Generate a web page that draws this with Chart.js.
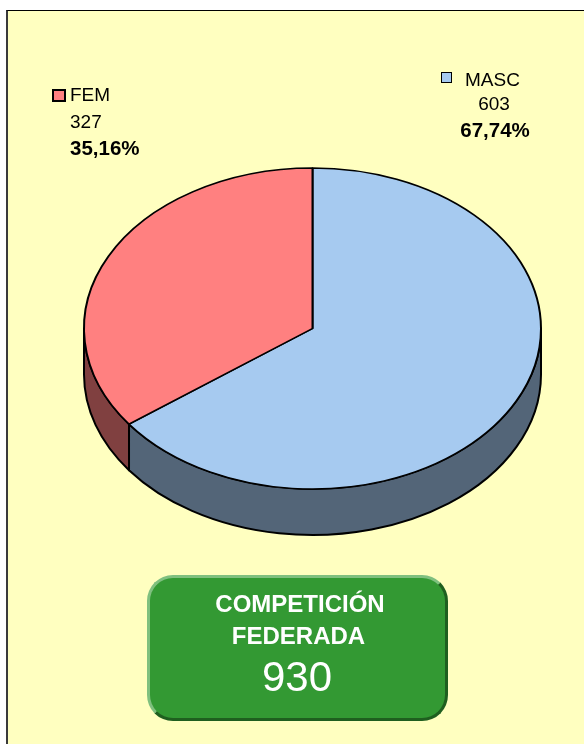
<!DOCTYPE html>
<html><head><meta charset="utf-8">
<script src="https://cdn.jsdelivr.net/npm/chart.js@4.4.1/dist/chart.umd.min.js"></script>
<style>
html,body{margin:0;padding:0;background:#fff;width:584px;height:744px;overflow:hidden;font-family:"Liberation Sans",Arial,sans-serif;}
#frame{position:absolute;left:6px;top:10px;width:600px;height:760px;background:#FFFFC0;border-left:2px solid #3a3a3a;border-top:1px solid #000;}
#c{position:absolute;left:0;top:0;}
.t{position:absolute;white-space:nowrap;line-height:1;color:#000;font-size:19px;}
.b{font-weight:bold;font-size:20.5px;}
.sq{position:absolute;box-sizing:border-box;border:2px solid #000;}
#box{position:absolute;left:147px;top:575px;width:301px;height:146px;box-sizing:border-box;border-radius:26px;background:#339933;border:3px solid;border-color:#7fc07f #1f5f1f #1f5f1f #7fc07f;}
.w{position:absolute;color:#fff;white-space:nowrap;line-height:1;text-align:center;width:300px;}
</style></head>
<body>
<div id="frame"></div>
<canvas id="c" width="584" height="744"></canvas>
<div id="labels"></div>
<div id="box"></div>
<div id="boxText"></div>
<script>
const categories = ['MASC', 'FEM'];
const counts = [603, 327];
const percentLabels = ['67,74%', '35,16%'];
const titleLines = ['COMPETICIÓN', 'FEDERADA'];
const totalValue = 930;

const K = 160.5 / 228.5;
const DEPTH = 46;

const pie3d = {
  id: 'pie3d',
  beforeDatasetsDraw(chart) {
    const ctx = chart.ctx;
    const meta = chart.getDatasetMeta(0);
    const ds = chart.data.datasets[0];
    ctx.save();
    meta.data.forEach((arc, i) => {
      const p = arc.getProps(['x', 'y', 'startAngle', 'endAngle', 'outerRadius'], true);
      const r = p.outerRadius;
      for (const shift of [-2 * Math.PI, 0, 2 * Math.PI]) {
        const a = Math.max(p.startAngle + shift, 0);
        const b = Math.min(p.endAngle + shift, Math.PI);
        if (b <= a) continue;
        ctx.beginPath();
        ctx.ellipse(p.x, p.y, r, r * K, 0, a, b, false);
        ctx.lineTo(p.x + r * Math.cos(b), p.y + r * K * Math.sin(b) + DEPTH);
        ctx.ellipse(p.x, p.y + DEPTH, r, r * K, 0, b, a, true);
        ctx.closePath();
        ctx.fillStyle = ds.sideColor[i];
        ctx.fill();
        ctx.lineWidth = 2;
        ctx.strokeStyle = '#000';
        ctx.lineJoin = 'round';
        ctx.stroke();
      }
    });
    ctx.restore();
    ctx.save();
    const cy = meta.data[0].y;
    ctx.translate(0, cy);
    ctx.scale(1, K);
    ctx.translate(0, -cy);
  },
  afterDatasetsDraw(chart) {
    chart.ctx.restore();
  }
};

new Chart(document.getElementById('c'), {
  type: 'pie',
  data: {
    labels: categories,
    datasets: [{
      data: counts,
      backgroundColor: ['#A6CAF0', '#FF8080'],
      sideColor: ['#536578', '#804040'],
      borderColor: '#000',
      borderWidth: 2
    }]
  },
  options: {
    responsive: false,
    animation: false,
    devicePixelRatio: 1,
    radius: 228.5,
    layout: { padding: { left: 61, right: 20, top: 20, bottom: 107 } },
    plugins: { legend: { display: false }, tooltip: { enabled: false } }
  },
  plugins: [pie3d]
});

// legend labels
const L = document.getElementById('labels');
function add(html, style, cls) {
  const d = document.createElement('div');
  d.className = cls;
  d.textContent = html;
  d.setAttribute('style', style);
  L.appendChild(d);
  return d;
}
// FEM (index 1)
add('', 'left:52px;top:89px;width:14px;height:13px;background:#FF8080;', 'sq');
add(categories[1], 'left:70px;top:84.6px;', 't');
add(String(counts[1]), 'left:70px;top:111.6px;', 't');
add(percentLabels[1], 'left:70px;top:137.6px;', 't b');
// MASC (index 0)
add('', 'left:441px;top:72px;width:11px;height:11px;background:#A6CAF0;border-width:1.5px;', 'sq');
add(categories[0], 'left:465px;top:70px;', 't');
add(String(counts[0]), 'left:444px;top:94px;width:100px;text-align:center;', 't');
add(percentLabels[0], 'left:445px;top:119.6px;width:100px;text-align:center;', 't b');

// total box text
const B = document.getElementById('boxText');
function addW(txt, style) {
  const d = document.createElement('div');
  d.className = 'w';
  d.textContent = txt;
  d.setAttribute('style', style);
  B.appendChild(d);
}
addW(titleLines[0], 'left:150px;top:591.7px;font-size:24px;font-weight:bold;');
addW(titleLines[1], 'left:148.5px;top:623.7px;font-size:24px;font-weight:bold;');
addW(String(totalValue), 'left:147px;top:656.4px;font-size:42px;');
</script>
</body></html>
